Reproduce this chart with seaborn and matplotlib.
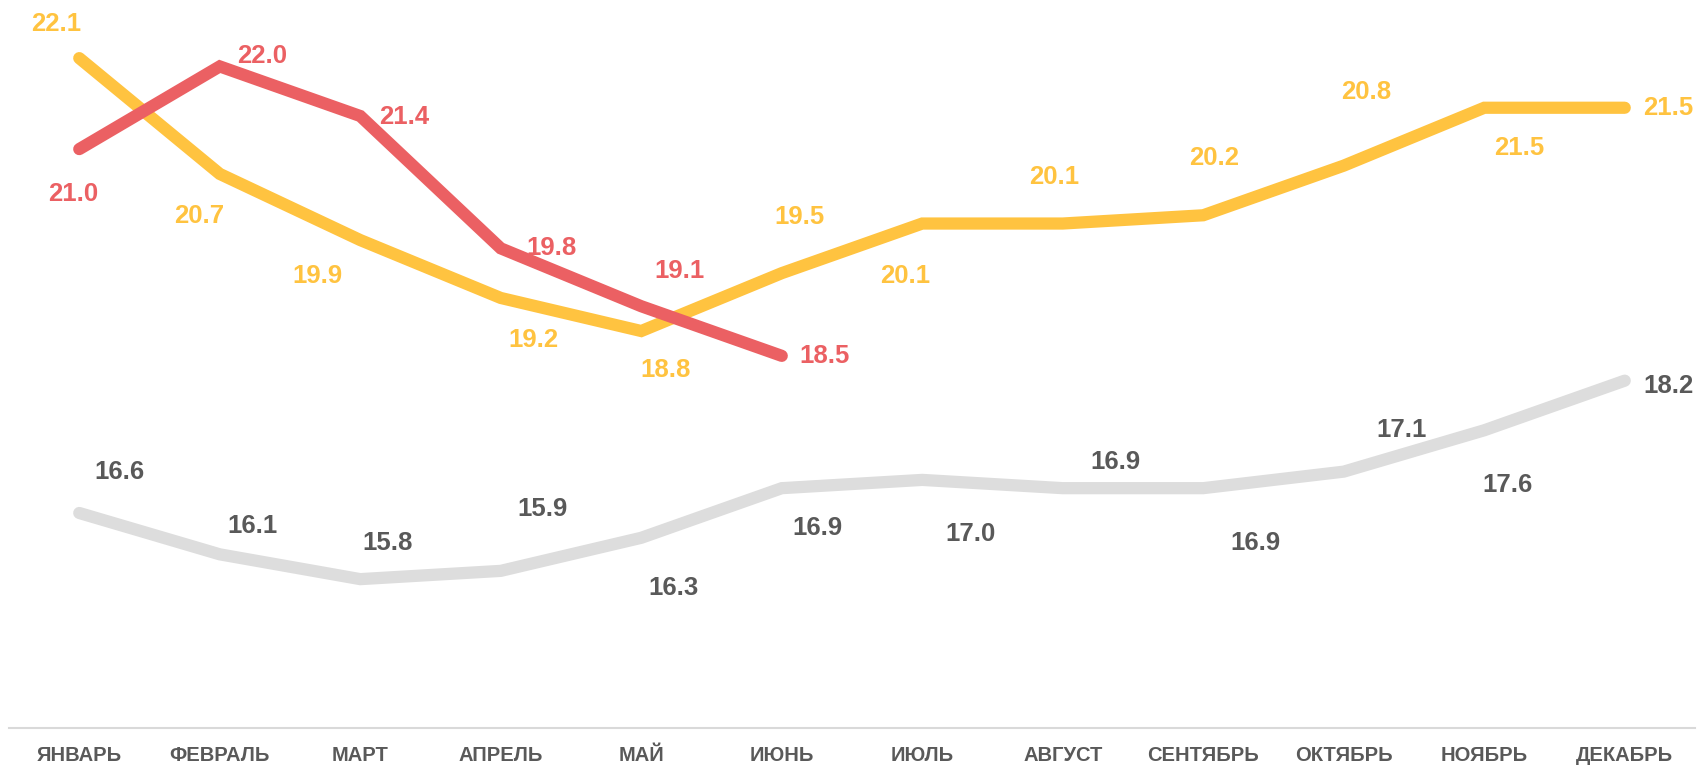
import pandas as pd
import numpy as np
import matplotlib
matplotlib.use("Agg")
import matplotlib.pyplot as plt
import seaborn as sns

months = ['ЯНВАРЬ', 'ФЕВРАЛЬ', 'МАРТ', 'АПРЕЛЬ', 'МАЙ', 'ИЮНЬ',
          'ИЮЛЬ', 'АВГУСТ', 'СЕНТЯБРЬ', 'ОКТЯБРЬ', 'НОЯБРЬ', 'ДЕКАБРЬ']

gray_vals = [16.6, 16.1, 15.8, 15.9, 16.3, 16.9, 17.0, 16.9, 16.9, 17.1, 17.6, 18.2]
yellow_vals = [22.1, 20.7, 19.9, 19.2, 18.8, 19.5, 20.1, 20.1, 20.2, 20.8, 21.5, 21.5]
red_vals = [21.0, 22.0, 21.4, 19.8, 19.1, 18.5]

series_names = ['gray', 'yellow', 'red']
series_vals = [gray_vals, yellow_vals, red_vals]
line_colors = {'gray': '#DDDDDD', 'yellow': '#FFC340', 'red': '#EB6063'}
label_colors = {'gray': '#595959', 'yellow': '#FFC340', 'red': '#EB6063'}

# смещения подписей (пиксели уменьшенного вида: +dx вправо, +dy вниз)
label_offsets = {
    'gray': [(37, -38), (30, -26), (25, -33), (38, -57), (30, 46), (33, 37),
             (44, 50), (48, -24), (48, 50), (53, -38), (21, 50), (40, 5)],
    'yellow': [(-21, -31), (-19, 39), (-39, 33), (30, 39), (22, 36), (16, -52),
               (-16, 48), (-8, -43), (10, -53), (21, -68), (32, 37), (40, 0)],
    'red': [(-6, 41), (39, -10), (40, 1), (47, 0), (35, -32), (39, 0)],
}
OFF_SCALE = 1.0893

rows = []
for name, vals in zip(series_names, series_vals):
    for m, v in zip(months, vals):
        rows.append({'month': m, 'value': v, 'series': name})
df = pd.DataFrame(rows)

sns.set_theme(style='white')
plt.rcParams['font.family'] = ['Liberation Sans', 'DejaVu Sans']

fig = plt.figure(figsize=(17.08, 7.66), dpi=100)
ax = fig.add_axes([9 / 1708, 38 / 766, 1686 / 1708, 728 / 766])

ax.plot(months, [np.nan] * len(months), alpha=0)  # порядок категорий
sns.lineplot(data=df, x='month', y='value', hue='series', hue_order=series_names,
             palette=line_colors, linewidth=8.8, sort=False, legend=False, ax=ax,
             solid_capstyle='round', solid_joinstyle='miter')

for name, vals in zip(series_names, series_vals):
    for i, v in enumerate(vals):
        dx, dy = label_offsets[name][i]
        ax.annotate(f"{v:.1f}", (i, v), xytext=(dx * OFF_SCALE, -dy * OFF_SCALE),
                    textcoords='offset pixels', ha='center', va='center',
                    fontsize=18.5, fontweight='bold', color=label_colors[name])

ax.set_xlim(-0.5, 11.5)
ax.set_ylim(14.0, 14.0 + 728 / 82.7)
ax.set_xlabel('')
ax.set_ylabel('')
ax.set_yticks([])
ax.set_xticks(range(len(months)))
ax.set_xticklabels(months, fontsize=14.5, fontweight='bold', color='#595959')
ax.tick_params(axis='x', length=0, pad=13)
for s in ['top', 'left', 'right']:
    ax.spines[s].set_visible(False)
ax.spines['bottom'].set_color('#D9D9D9')
ax.spines['bottom'].set_linewidth(1.5)

fig.savefig('out.png', dpi=100)
plt.close(fig)
